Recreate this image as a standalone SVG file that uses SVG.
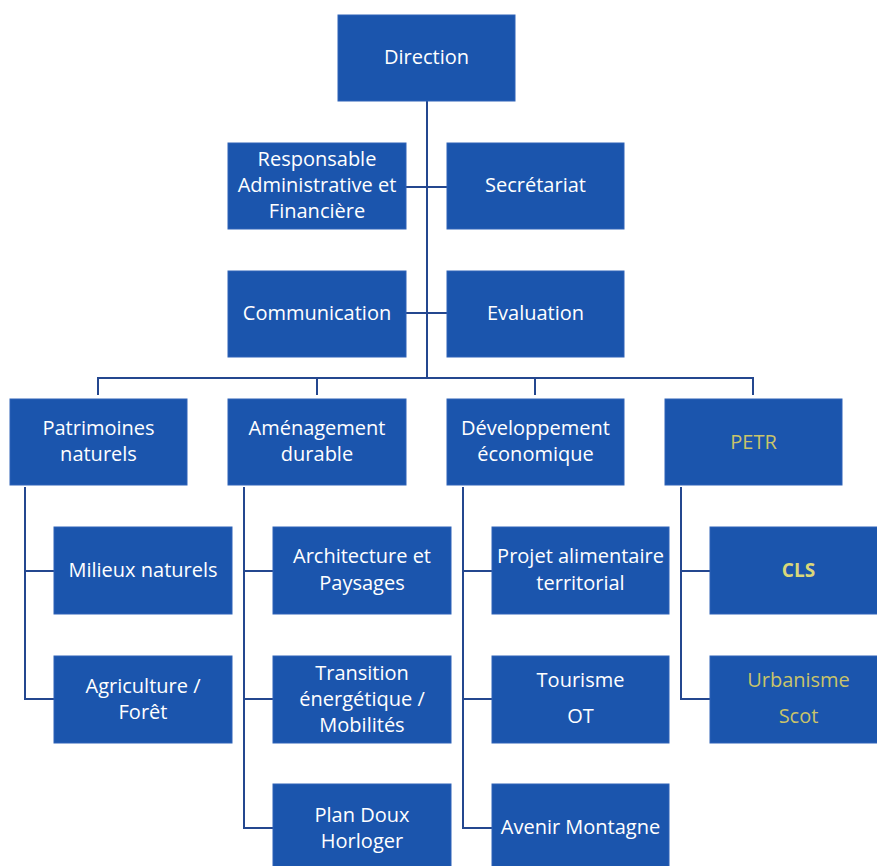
<svg xmlns="http://www.w3.org/2000/svg" width="877" height="866" viewBox="0 0 877 866">
<style>
.box{fill:#1b55ad;stroke:#2f63b8;stroke-width:1}
.t{font-family:"Open Sans","Liberation Sans",sans-serif;font-size:20px;fill:#ffffff;text-anchor:middle}
.y{fill:#c9c46a}
.b{font-weight:bold;font-size:19px;fill:#d9d77a}
.ln{stroke:#24478f;stroke-width:2;fill:none}
</style>
<rect width="877" height="866" fill="#ffffff"/>
<g id="connectors">
<path class="ln" d="M427 101 V378"/>
<path class="ln" d="M406 187 H447"/>
<path class="ln" d="M406 313 H447"/>
<path class="ln" d="M98 395 V378 H753 V395"/>
<path class="ln" d="M317 378 V395"/>
<path class="ln" d="M535 378 V395"/>
<path class="ln" d="M25 487 V699 H54 M25 571 H54"/>
<path class="ln" d="M244 487 V828 H273 M244 571 H273 M244 699 H273"/>
<path class="ln" d="M463 487 V828 H492 M463 571 H492 M463 699 H492"/>
<path class="ln" d="M681 487 V699 H710 M681 571 H710"/>
</g>
<g id="direction"><rect class="box" x="338" y="15" width="177" height="86"/><text class="t" x="426.5" y="64">Direction</text></g>
<g id="responsable"><rect class="box" x="228" y="143" width="178" height="86"/><text class="t" x="317" y="166">Responsable</text><text class="t" x="317" y="192">Administrative et</text><text class="t" x="317" y="218">Financière</text></g>
<g id="secretariat"><rect class="box" x="447" y="143" width="177" height="86"/><text class="t" x="535.5" y="192">Secrétariat</text></g>
<g id="communication"><rect class="box" x="228" y="271" width="178" height="86"/><text class="t" x="317" y="320">Communication</text></g>
<g id="evaluation"><rect class="box" x="447" y="271" width="177" height="86"/><text class="t" x="535.5" y="320">Evaluation</text></g>
<g id="patrimoines"><rect class="box" x="10" y="399" width="177" height="86"/><text class="t" x="98.5" y="435">Patrimoines</text><text class="t" x="98.5" y="461">naturels</text></g>
<g id="amenagement"><rect class="box" x="228" y="399" width="178" height="86"/><text class="t" x="317" y="435">Aménagement</text><text class="t" x="317" y="461">durable</text></g>
<g id="developpement"><rect class="box" x="447" y="399" width="177" height="86"/><text class="t" x="535.5" y="435">Développement</text><text class="t" x="535.5" y="461">économique</text></g>
<g id="petr"><rect class="box" x="665" y="399" width="177" height="86"/><text class="t y" x="753.5" y="449">PETR</text></g>
<g id="milieux"><rect class="box" x="54" y="527" width="178" height="87"/><text class="t" x="143" y="577">Milieux naturels</text></g>
<g id="agriculture"><rect class="box" x="54" y="656" width="178" height="87"/><text class="t" x="143" y="693">Agriculture /</text><text class="t" x="143" y="719">Forêt</text></g>
<g id="architecture"><rect class="box" x="273" y="527" width="178" height="87"/><text class="t" x="362" y="563">Architecture et</text><text class="t" x="362" y="590">Paysages</text></g>
<g id="transition"><rect class="box" x="273" y="656" width="178" height="87"/><text class="t" x="362" y="680">Transition</text><text class="t" x="362" y="706">énergétique /</text><text class="t" x="362" y="732">Mobilités</text></g>
<g id="plandoux"><rect class="box" x="273" y="784" width="178" height="90"/><text class="t" x="362" y="822">Plan Doux</text><text class="t" x="362" y="848">Horloger</text></g>
<g id="projet"><rect class="box" x="492" y="527" width="177" height="87"/><text class="t" x="580.5" y="563">Projet alimentaire</text><text class="t" x="580.5" y="590">territorial</text></g>
<g id="tourisme"><rect class="box" x="492" y="656" width="177" height="87"/><text class="t" x="580.5" y="687">Tourisme</text><text class="t" x="580.5" y="723">OT</text></g>
<g id="avenir"><rect class="box" x="492" y="784" width="177" height="90"/><text class="t" x="580.5" y="834">Avenir Montagne</text></g>
<g id="cls"><rect class="box" x="710" y="527" width="177" height="87"/><text class="t b" x="798.5" y="577">CLS</text></g>
<g id="urbanisme"><rect class="box" x="710" y="656" width="177" height="87"/><text class="t y" x="798.5" y="687">Urbanisme</text><text class="t y" x="798.5" y="723">Scot</text></g>
</svg>
